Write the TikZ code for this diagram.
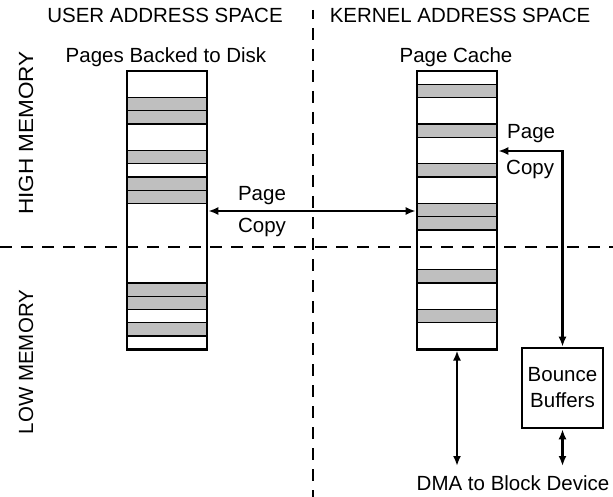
\documentclass[tikz,border=0pt]{standalone}
\usepackage{fontspec}
\setmainfont{Liberation Sans}
\usetikzlibrary{arrows.meta}

\begin{document}
\begin{tikzpicture}[x=1pt,y=-1pt,
  every node/.style={font=\fontsize{20.5}{26}\selectfont, inner sep=0pt},
  colbox/.style={draw, line width=2.6pt, minimum width=80pt, minimum height=278.25pt},
  bouncebox/.style={draw, line width=2.6pt, minimum width=81pt, minimum height=80pt, align=center},
  stripe/.style={fill=black!25, draw, line width=1.4pt},
  divider/.style={line width=2.6pt, dash pattern=on 12pt off 9pt},
  dbl/.style={line width=2.1pt, {Latex[length=10pt,width=8pt]}-{Latex[length=10pt,width=8pt]}},
  lbl/.style={anchor=base}
]
\useasboundingbox (0,0) rectangle (613,497);

% memory-zone divider lines
\draw[divider] (0,247) -- (613,247);
\draw[divider, dash phase=3pt] (313,10) -- (313,497);

% headings
\node[lbl] (utitle) at (165,22.7) {USER ADDRESS SPACE};
\node[lbl] (ktitle) at (460,22.7) {KERNEL ADDRESS SPACE};
\node[lbl] (ulabel) at (166,62.7) {Pages Backed to Disk};
\node[lbl] (klabel) at (456,62.7) {Page Cache};
\node[lbl, rotate=90] (high) at (33,133) {\scalebox{1.1}[1]{HIGH MEMORY}};
\node[lbl, rotate=90] (low) at (33,362) {LOW MEMORY};

% stripes of the user column (slot height 13.25, top 71)
\foreach \k in {2,3,6,8,9,16,17,19}
  \draw[stripe] (127,{71+13.25*\k}) rectangle (207,{71+13.25*(\k+1)});
% stripes of the page cache column
\foreach \k in {1,4,7,10,11,15,18}
  \draw[stripe] (417,{71+13.25*\k}) rectangle (497,{71+13.25*(\k+1)});

% the two page columns
\node[colbox] (ucol) at (167,210.125) {};
\node[colbox] (kcol) at (457,210.125) {};

% bounce buffers
\node[bouncebox] (bb) at (562.5,388) {Bounce\\Buffers};

% page copy between user pages and page cache
\coordinate (copyy) at (0,211);
\draw[dbl] (ucol.east |- copyy) -- (kcol.west |- copyy);
\node[lbl] (pg1) at (262,201) {Page};
\node[lbl] (cp1) at (262,233) {Copy};

% page copy between page cache and bounce buffers
\coordinate (bcopyy) at (0,151);
\draw[dbl] (kcol.east |- bcopyy) -| (bb.north);
\node[lbl, anchor=base west] (pg2) at (507,139) {Page};
\node[lbl, anchor=base west] (cp2) at (506,175) {Copy};

% DMA to the block device
\node[lbl] (dma) at (513,490) {DMA to Block Device};
\coordinate (dmaend) at (457,466);
\draw[dbl] (kcol.south) -- (dmaend);
\draw[dbl] (bb.south) -- (bb.south |- dmaend);
\end{tikzpicture}
\end{document}
